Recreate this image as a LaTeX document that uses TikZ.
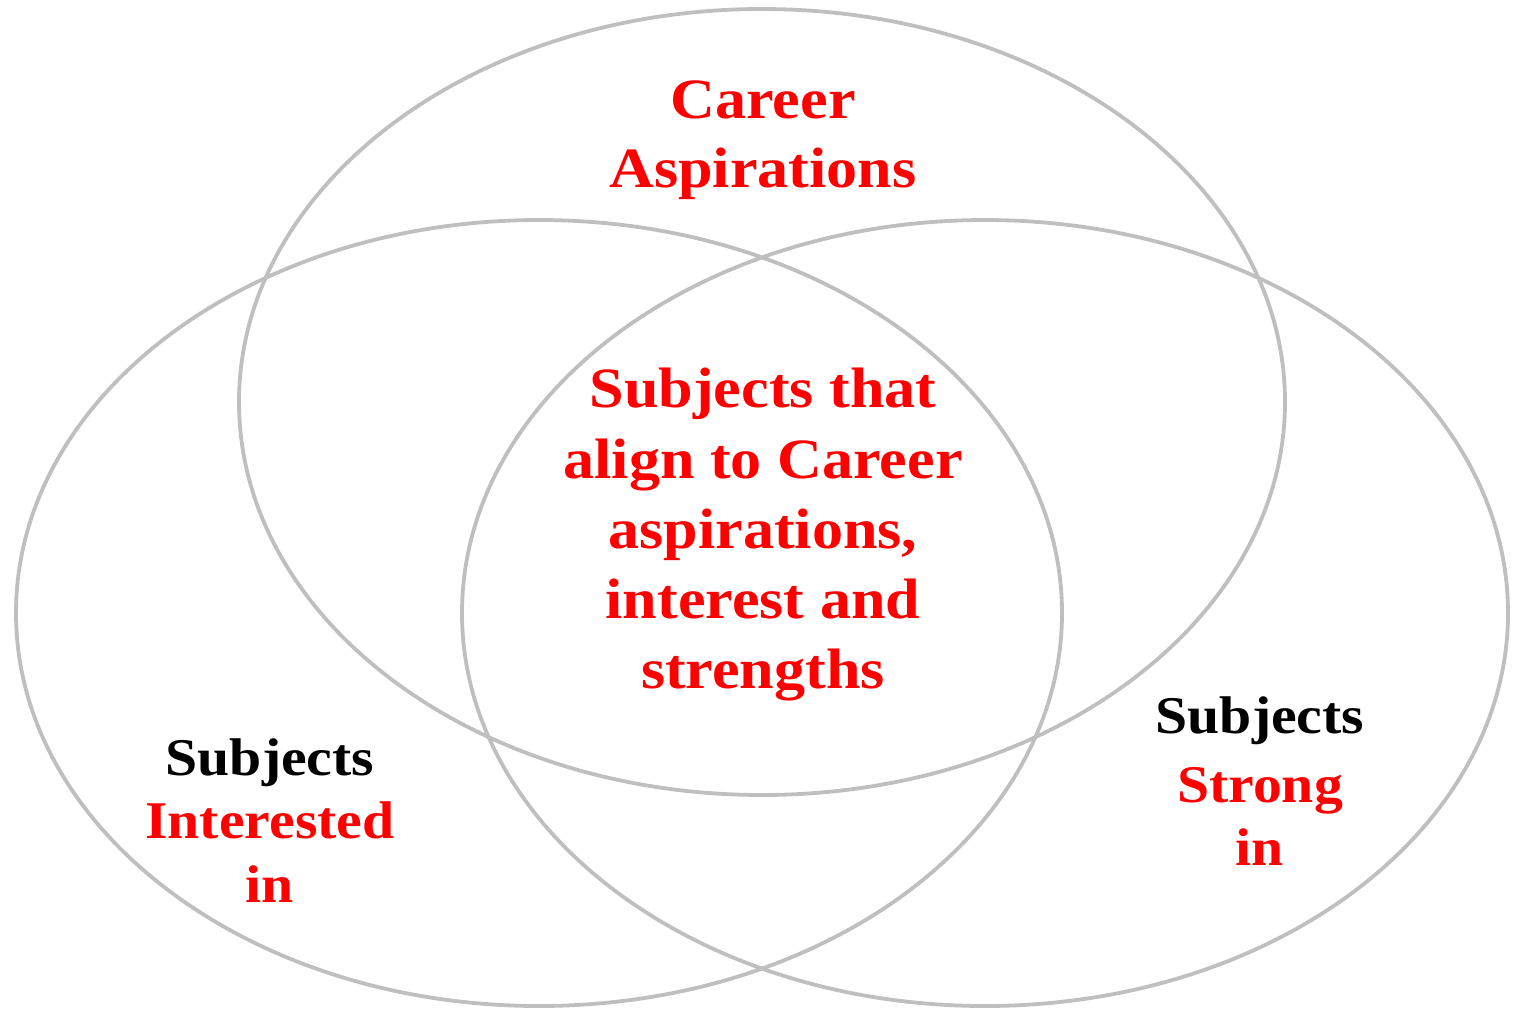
\documentclass[tikz,border=0pt]{standalone}
\usepackage{fontspec}
\setmainfont{Liberation Serif}[FakeStretch=1.09]
\definecolor{ringgray}{HTML}{BFBFBF}
\definecolor{txtred}{HTML}{FF0000}
\tikzset{
  ring/.style={draw=ringgray, line width=3.8pt},
  bigtxt/.style={anchor=base, inner sep=0pt, font=\fontsize{57}{70}\selectfont\bfseries, text=txtred},
  smalltxt/.style={anchor=base, inner sep=0pt, font=\fontsize{53}{64}\selectfont\bfseries},
}
\begin{document}
\begin{tikzpicture}[x=1pt,y=-1pt]
\useasboundingbox (0,0) rectangle (1522,1010);
\draw[ring] (762,402) ellipse [x radius=523pt, y radius=393pt];
\draw[ring] (539,613) ellipse [x radius=523pt, y radius=393pt];
\draw[ring] (985,613) ellipse [x radius=523pt, y radius=393pt];
% top
\node[bigtxt] (t1) at (763,118) {Career};
\node[bigtxt] (t2) at (763,187) {Aspirations};
% center
\node[bigtxt] (c1) at (763,407) {Subjects that};
\node[bigtxt] (c2) at (763,478) {align to Career};
\node[bigtxt] (c3) at (763,548) {aspirations,};
\node[bigtxt] (c4) at (763,618) {interest and};
\node[bigtxt] (c5) at (763,688) {strengths};
% left
\node[smalltxt, text=black] (l1) at (270,775) {Subjects};
\node[smalltxt, text=txtred] (l2) at (270,838) {Interested};
\node[smalltxt, text=txtred] (l3) at (270,902) {in};
% right
\node[smalltxt, text=black] (r1) at (1260,733) {Subjects};
\node[smalltxt, text=txtred] (r2) at (1260,802) {Strong};
\node[smalltxt, text=txtred] (r3) at (1260,865) {in};
\end{tikzpicture}
\end{document}
